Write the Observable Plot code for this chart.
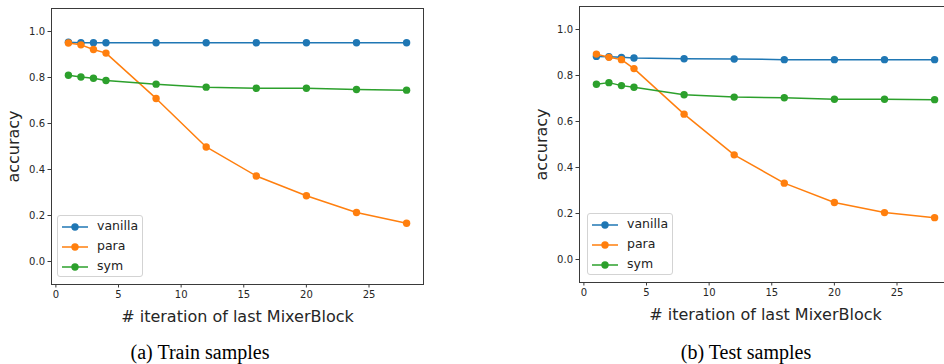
<!DOCTYPE html>
<html><head><meta charset="utf-8">
<script src="https://cdn.jsdelivr.net/npm/d3@7"></script>
<script src="https://cdn.jsdelivr.net/npm/@observablehq/plot@0.6"></script>
<style>
html,body{margin:0;padding:0;background:#fff;overflow:hidden;width:944px;height:364px;}
#wrap{position:relative;width:944px;height:364px;overflow:hidden;}
.panel{position:absolute;width:430px;height:325px;}
.panel svg{overflow:visible;max-width:none !important;width:430px;height:325px;}
.panel [aria-label="x-axis label"] text,.panel [aria-label="y-axis label"] text{font-size:16px;}
.caption{position:absolute;font-family:"Liberation Serif","Times New Roman",serif;font-size:20px;color:#000;transform:translateX(-50%);white-space:nowrap;line-height:20px;}
.legend{position:absolute;border:1px solid #d3d3d3;border-radius:3px;background:rgba(255,255,255,0.85);font-family:"DejaVu Sans",sans-serif;font-size:12.5px;color:#222;box-sizing:border-box;}
.legend .row{position:absolute;left:0;height:16px;}
.legend .row svg{position:absolute;left:3px;top:0;}
.legend .row span{position:absolute;left:39px;top:-1px;line-height:16px;white-space:nowrap;}
</style>
</head><body>
<div id="wrap"></div>
<script>
const iterations = [1, 2, 3, 4, 8, 12, 16, 20, 24, 28];
const seriesNames = ["vanilla", "para", "sym"];
const seriesColors = ["#1f77b4", "#ff7f0e", "#2ca02c"];
const trainVanilla = [0.953, 0.951, 0.951, 0.951, 0.951, 0.951, 0.951, 0.951, 0.951, 0.951];
const trainPara    = [0.950, 0.942, 0.922, 0.906, 0.709, 0.498, 0.372, 0.286, 0.213, 0.166];
const trainSym     = [0.810, 0.802, 0.797, 0.787, 0.771, 0.758, 0.753, 0.753, 0.748, 0.745];
const testVanilla  = [0.883, 0.882, 0.879, 0.876, 0.873, 0.872, 0.869, 0.869, 0.869, 0.869];
const testPara     = [0.893, 0.879, 0.869, 0.830, 0.632, 0.455, 0.332, 0.248, 0.204, 0.182];
const testSym      = [0.762, 0.769, 0.756, 0.749, 0.716, 0.706, 0.703, 0.697, 0.697, 0.695];
const xTicks = [0, 5, 10, 15, 20, 25];
const yTicks = [0, 0.2, 0.4, 0.6, 0.8, 1.0];
const xDomain = [-0.35, 29.35];
const yDomain = [-0.1, 1.1];
const xLabel = "# iteration of last MixerBlock";
const yLabel = "accuracy";
const captions = ["(a) Train samples", "(b) Test samples"];

const wrap = document.getElementById("wrap");

function makePanel(seriesValues, left, top, legendPos, caption, captionX) {
  const marks = [
    Plot.frame({stroke: "#3a3a3a", strokeWidth: 1}),
    Plot.axisX({ticks: xTicks, tickSize: 3.5, tickPadding: 3, tickFormat: d => String(d),
      label: xLabel, labelAnchor: "center", labelArrow: "none", labelOffset: 37, fill: "#262626", stroke: "#3a3a3a"}),
    Plot.axisY({ticks: yTicks, tickSize: 3.5, tickPadding: 3, tickFormat: d3.format(".1f"),
      label: yLabel, labelAnchor: "center", labelArrow: "none", labelOffset: 44, fill: "#262626", stroke: "#3a3a3a"})
  ];
  seriesNames.forEach((name, i) => {
    const rows = iterations.map((x, j) => ({x, y: seriesValues[i][j], series: name}));
    marks.push(Plot.line(rows, {x: "x", y: "y", stroke: seriesColors[i], strokeWidth: 1.5}));
    marks.push(Plot.dot(rows, {x: "x", y: "y", fill: seriesColors[i], stroke: "none", r: 3.7}));
  });
  const chart = Plot.plot({
    width: 430, height: 325,
    marginLeft: 51, marginRight: 7, marginTop: 8, marginBottom: 41,
    x: {domain: xDomain},
    y: {domain: yDomain},
    style: {fontFamily: "DejaVu Sans, sans-serif", fontSize: "10px", background: "transparent", color: "#262626", maxWidth: "none"},
    marks
  });
  const div = document.createElement("div");
  div.className = "panel";
  div.style.left = left + "px";
  div.style.top = top + "px";
  div.appendChild(chart);
  wrap.appendChild(div);

  const lg = document.createElement("div");
  lg.className = "legend";
  lg.style.left = legendPos[0] + "px";
  lg.style.top = legendPos[1] + "px";
  lg.style.width = "86px";
  lg.style.height = "62px";
  seriesNames.forEach((name, i) => {
    const row = document.createElement("div");
    row.className = "row";
    row.style.top = (3 + i * 20) + "px";
    row.innerHTML = `<svg width="30" height="16"><line x1="1" x2="27" y1="8" y2="8" stroke="${seriesColors[i]}" stroke-width="1.5"/><circle cx="14" cy="8" r="3.7" fill="${seriesColors[i]}"/></svg><span>${name}</span>`;
    lg.appendChild(row);
  });
  wrap.appendChild(lg);

  const cap = document.createElement("div");
  cap.className = "caption";
  cap.style.left = captionX + "px";
  cap.style.top = "342px";
  cap.textContent = caption;
  wrap.appendChild(cap);
}

makePanel([trainVanilla, trainPara, trainSym], 0, 0, [57, 215], captions[0], 200);
makePanel([testVanilla, testPara, testSym], 528, -2, [587, 213], captions[1], 746);
</script>
</body></html>
